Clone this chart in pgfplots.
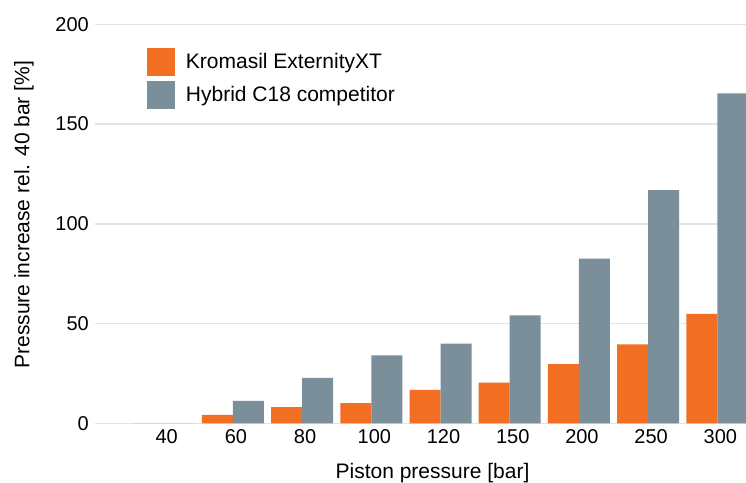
\documentclass[border=0pt]{standalone}
\usepackage{pgfplots}
\pgfplotsset{compat=1.18}
\usepackage{fontspec}
\setmainfont{Liberation Sans}
\definecolor{kroma}{RGB}{242,110,35}
\definecolor{hybrid}{RGB}{123,143,155}
\definecolor{gridc}{RGB}{227,227,227}
\begin{document}
\begin{tikzpicture}
\path[use as bounding box] (0,0) rectangle (746bp,483bp);
\begin{axis}[
  at={(94.5bp,59.7bp)}, anchor=south west,
  scale only axis, width=651.5bp, height=399bp,
  xmin=-1, xmax=8.414, ymin=0, ymax=200,
  ybar=0pt, bar width=31bp,
  xtick={0,...,8}, xticklabels={40,60,80,100,120,150,200,250,300},
  ytick={0,50,100,150,200},
  ymajorgrids, grid style={gridc, line width=1.5bp},
  axis line style={draw=none}, major tick length=0pt,
  tick label style={font=\fontsize{20bp}{24bp}\selectfont, /pgf/number format/assume math mode=true},
  xticklabel style={anchor=north, inner sep=0pt, yshift=-6bp, xshift=3bp},
  yticklabel style={anchor=east, inner sep=0pt, xshift=-5.5bp},
  xlabel={Piston pressure [bar]},
  ylabel={Pressure increase rel. 40 bar [\%]},
  label style={font=\fontsize{21bp}{25bp}\selectfont},
  xlabel style={at={(axis description cs:0.5188,-0.1378)}, anchor=base, inner sep=0pt},
  ylabel style={at={(axis description cs:-0.1001,0.5228)}, anchor=base, rotate=0, inner sep=0pt},
  legend style={at={(axis description cs:0.081,0.9398)}, anchor=north west, draw=none, fill=none,
    inner sep=0pt, outer sep=0pt, row sep=5.6bp, font=\fontsize{21bp}{25bp}\selectfont,
    nodes={inner sep=0pt}},
  legend cell align=left,
  legend image code/.code={\fill[#1] (0bp,-13.7bp) rectangle (28bp,13.7bp); \path (38.7bp,0bp);},
]
\addplot[fill=kroma, draw=none] coordinates {(0,0) (1,4.2) (2,8.1) (3,10.1) (4,16.7) (5,20.4) (6,29.7) (7,39.5) (8,54.8)};
\addplot[fill=hybrid, draw=none] coordinates {(0,0) (1,11.3) (2,22.8) (3,34.1) (4,39.9) (5,54.1) (6,82.6) (7,116.9) (8,165.4)};
\legend{Kromasil ExternityXT, Hybrid C18 competitor}
\end{axis}
\end{tikzpicture}
\end{document}
